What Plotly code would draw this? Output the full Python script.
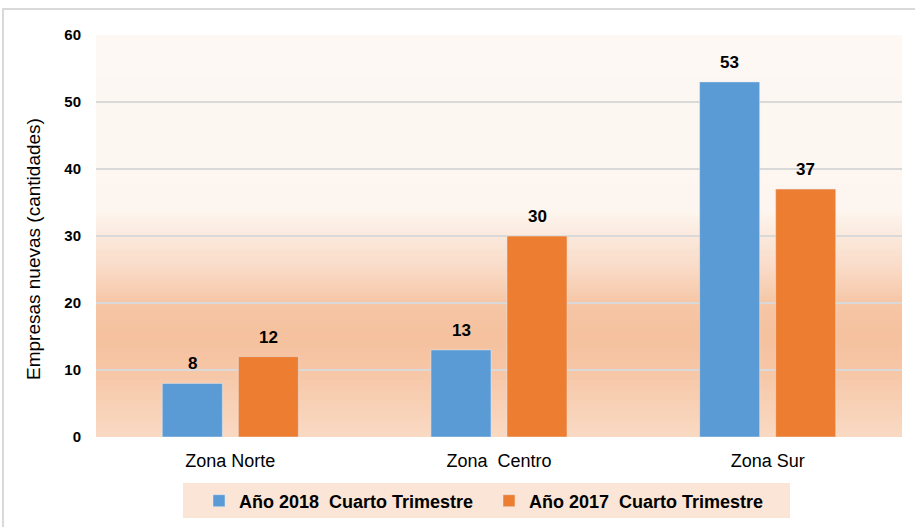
import plotly.graph_objects as go

# Data
zonas = ["Zona Norte", "Zona  Centro", "Zona Sur"]
serie_2018 = [8, 13, 53]
serie_2017 = [12, 30, 37]
nombre_2018 = "Año 2018  Cuarto Trimestre"
nombre_2017 = "Año 2017  Cuarto Trimestre"
y_ticks = [0, 10, 20, 30, 40, 50, 60]
titulo_y = "Empresas nuevas (cantidades)"

AZUL = "#5B9BD5"
NARANJA = "#ED7D31"
SANS = "Liberation Sans, Arial, Helvetica, sans-serif"

W, H = 915, 527
L, R, T, B = 96, 13, 35, 90
PW, PH = W - L - R, H - T - B


def px_x(px):
    return (px - L) / PW


def px_y(py):
    return (H - B - py) / PH


fig = go.Figure()
fig.add_trace(go.Bar(name=nombre_2018, x=zonas, y=serie_2018, marker_color=AZUL))
fig.add_trace(go.Bar(name=nombre_2017, x=zonas, y=serie_2017, marker_color=NARANJA))

# Value labels above each bar
annotations = []
for serie, dx in ((serie_2018, -38), (serie_2017, 38)):
    for zona, v in zip(zonas, serie):
        annotations.append(dict(
            x=zona, y=v, xref="x", yref="y", text=str(v), showarrow=False,
            xshift=dx, yshift=8, yanchor="bottom",
            font=dict(family=SANS, size=17, color="#000000", weight="bold"),
        ))

# Rotated y-axis title
annotations.append(dict(
    x=px_x(33), y=px_y(249), xref="paper", yref="paper", text=titulo_y,
    textangle=-90, showarrow=False, xanchor="center", yanchor="middle",
    font=dict(family=SANS, size=19, color="#000000"),
))

# Vertical peach gradient behind the grid
stops = [
    (60, (253, 248, 244)),
    (34, (253, 246, 240)),
    (30, (251, 233, 220)),
    (25, (249, 218, 198)),
    (20, (246, 198, 165)),
    (15, (245, 193, 158)),
    (10, (246, 198, 166)),
    (5, (248, 208, 181)),
    (0, (249, 217, 195)),
]


def color_at(v):
    for (v1, c1), (v0, c0) in zip(stops[:-1], stops[1:]):
        if v0 <= v <= v1:
            t = (v - v0) / (v1 - v0)
            c = [round(a + (b - a) * t) for a, b in zip(c0, c1)]
            return "rgb(%d,%d,%d)" % tuple(c)
    return "rgb(253,248,244)"


shapes = []
n = 120
for i in range(n):
    y0 = 60 * i / n
    y1 = min(60 * (i + 1) / n + 0.6, 60)
    shapes.append(dict(
        type="rect", xref="paper", yref="y", x0=0, x1=1, y0=y0, y1=y1,
        fillcolor=color_at(60 * (i + 0.5) / n), line=dict(width=0), layer="below",
    ))

# Legend panel
shapes.append(dict(
    type="rect", xref="paper", yref="paper",
    x0=px_x(183), x1=px_x(790), y0=px_y(518), y1=px_y(483),
    fillcolor="#FAE5D6", line=dict(width=0), layer="below",
))
# Outer chart frame
shapes.append(dict(
    type="rect", xref="paper", yref="paper",
    x0=px_x(3), x1=px_x(925), y0=px_y(540), y1=px_y(9),
    fillcolor="rgba(0,0,0,0)", line=dict(color="#D9D9D9", width=2),
))

fig.update_layout(
    width=W, height=H,
    margin=dict(l=L, r=R, t=T, b=B, autoexpand=False),
    paper_bgcolor="#FFFFFF",
    plot_bgcolor="rgba(0,0,0,0)",
    barmode="group",
    bargap=0.434,
    bargroupgap=0.21,
    shapes=shapes,
    annotations=annotations,
    showlegend=True,
    legend=dict(
        orientation="h", x=px_x(489), xanchor="center", y=px_y(501), yanchor="middle",
        bgcolor="rgba(0,0,0,0)",
        font=dict(family=SANS, size=18, color="#000000", weight="bold"),
        itemwidth=30, traceorder="normal",
        entrywidth=245, entrywidthmode="pixels",
    ),
    xaxis=dict(
        showgrid=False, zeroline=False, showline=False, ticks="",
        tickfont=dict(family=SANS, size=18, color="#000000"),
        ticklabelstandoff=11,
    ),
    yaxis=dict(
        range=[0, 60], tickvals=y_ticks, showgrid=True, gridcolor="#D9D9D9", gridwidth=1.5,
        zeroline=False, showline=False, ticks="",
        tickfont=dict(family=SANS, size=15, color="#000000", weight="bold"),
        ticklabelstandoff=14,
    ),
)

fig.write_html("out.html")
